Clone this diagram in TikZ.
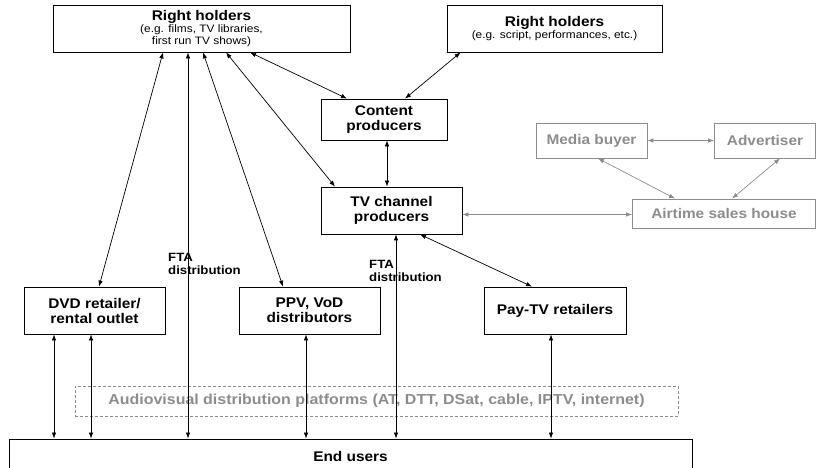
\documentclass[tikz,border=0pt]{standalone}
\usepackage{fontspec}
\setmainfont{Liberation Sans}[FakeStretch=1.1]
\usetikzlibrary{arrows.meta}
\definecolor{lg}{RGB}{140,140,140}
\newcommand{\subtxt}{\mdseries\fontsize{10.8}{11}\selectfont}
\begin{document}
\begin{tikzpicture}[x=1pt,y=-1pt,
  box/.style={draw, line width=0.8pt, align=center, inner sep=1pt,
    font=\bfseries\fontsize{14}{15}\selectfont},
  gbox/.style={draw=lg, line width=0.8pt, text=lg, align=center, inner sep=1pt,
    font=\bfseries\fontsize{14}{15}\selectfont},
  dar/.style={{Latex[length=6pt,width=4.5pt]}-{Latex[length=6pt,width=4.5pt]}, line width=0.7pt},
  gar/.style={dar, draw=lg},
  lab/.style={font=\bfseries\fontsize{12}{13}\selectfont, align=left, inner sep=0pt, anchor=north west}
]
\useasboundingbox (0,0) rectangle (817,468);
\clip (0,0) rectangle (817,468);

\node[box, minimum width=297, minimum height=47] (rh1) at (201.5,28.5)
  {Right holders\\[-3pt]{\subtxt (e.g. films, TV libraries,}\\[-2.5pt]{\subtxt first run TV shows)}};
\node[box, minimum width=215, minimum height=47] (rh2) at (554.5,28.5)
  {Right holders\\[-3pt]{\subtxt (e.g. script, performances, etc.)}};
\node[box, minimum width=126, minimum height=41] (cp) at (384,119.5) {Content\\producers};
\node[box, minimum width=141, minimum height=47] (tv) at (391.5,210.5) {TV channel\\producers};
\node[gbox, minimum width=111, minimum height=35] (mb) at (591.5,140.5) {Media buyer};
\node[gbox, minimum width=101, minimum height=35] (adv) at (765,140.5) {Advertiser};
\node[gbox, minimum width=183, minimum height=29] (ash) at (724,213.5) {Airtime sales house};
\node[box, minimum width=141, minimum height=47] (dvd) at (94.5,310.5) {DVD retailer/\\rental outlet};
\node[box, minimum width=141, minimum height=47] (ppv) at (309.5,310.5) {PPV, VoD\\distributors};
\node[box, minimum width=142, minimum height=47] (pay) at (555,310.5) {Pay-TV retailers};
\node[draw=lg, dashed, dash pattern=on 3pt off 2pt, line width=0.7pt, text=lg,
  font=\bfseries\fontsize{14.5}{15}\selectfont, minimum width=603, minimum height=30] (avd) at (376.5,401)
  {Audiovisual distribution platforms (AT, DTT, DSat, cable, IPTV, internet)};
\node[box, minimum width=683, minimum height=34] (eu) at (350.5,456) {End users};

\node[lab] (fta1) at (168,253) {FTA\\distribution};
\node[lab] (fta2) at (369,260) {FTA\\distribution};

% arrows from right holders 1
\draw[dar] ([xshift=-38.5pt]rh1.south) -- ([xshift=4.5pt]dvd.north);
\draw[dar] ([xshift=-13.5pt]rh1.south) -- ([xshift=-13.5pt]rh1.south |- eu.north);
\draw[dar] ([xshift=1.5pt]rh1.south) -- ([xshift=-26.5pt]ppv.north);
\draw[dar] ([xshift=24.5pt]rh1.south) -- ([xshift=-56.5pt]tv.north);
\draw[dar] ([xshift=48.5pt]rh1.south) -- ([xshift=-37pt]cp.north);
\draw[dar] ([xshift=14pt]rh2.south west) -- ([xshift=21pt]cp.north);
\draw[dar] ([xshift=3pt]cp.south) -- ([xshift=-4.5pt]tv.north);
\draw[dar] ([xshift=28.5pt]tv.south) -- ([xshift=-23pt]pay.north);
% grey connectors
\draw[gar] ([yshift=-4pt]tv.east) -- ([yshift=-1pt]ash.west);
\draw[gar] ([xshift=6.5pt]mb.south) -- ([xshift=-49pt]ash.north);
\draw[gar] ([xshift=15pt]adv.south) -- ([xshift=8pt]ash.north);
\draw[gar] (mb.east) -- (adv.west);
% down to end users
\draw[dar] ([xshift=-40.5pt]dvd.south) -- ([xshift=-40.5pt]dvd.south |- eu.north);
\draw[dar] ([xshift=-3.5pt]dvd.south) -- ([xshift=-3.5pt]dvd.south |- eu.north);
\draw[dar] ([xshift=-3.5pt]ppv.south) -- ([xshift=-3.5pt]ppv.south |- eu.north);
\draw[dar] ([xshift=4.5pt]tv.south) -- ([xshift=4.5pt]tv.south |- eu.north);
\draw[dar] ([xshift=-4pt]pay.south) -- ([xshift=-4pt]pay.south |- eu.north);
\end{tikzpicture}
\end{document}
